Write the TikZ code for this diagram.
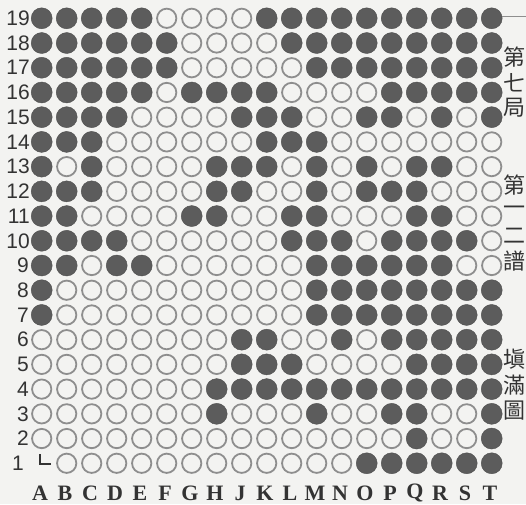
\documentclass[tikz,border=0pt]{standalone}
\usepackage{fontspec}
\newfontfamily\cjk{Noto Sans CJK TC}
\newfontfamily\numfont{Liberation Sans}
\newfontfamily\letfont{Liberation Serif}
\usetikzlibrary{calc}
\definecolor{bg}{HTML}{F3F3F1}
\definecolor{blk}{HTML}{5C5C5C}
\definecolor{rim}{HTML}{8E8E8E}
\definecolor{ink}{HTML}{333333}
\tikzset{
  stone/.style={circle, minimum size=21pt, inner sep=0pt},
  stoneb/.style={stone, fill=blk, draw=blk!85!black, line width=0.4pt},
  stonew/.style={stone, minimum size=19.3pt, draw=rim, line width=1.8pt, fill=bg},
  stonen/.style={stone},
  rowlab/.style={anchor=east, font=\numfont\fontsize{21}{21}\selectfont, text=ink, inner sep=0pt},
  collab/.style={font=\letfont\bfseries\fontsize{22}{22}\selectfont, text=ink, inner sep=0pt},
  cjklab/.style={font=\cjk\fontsize{22}{22}\selectfont, text=ink, inner sep=0pt},
  boardline/.style={draw=ink, line width=1.8pt},
  edgeline/.style={draw=rim, line width=0.8pt},
}
\newcommand\stonerow[3]{%
  \foreach \c [count=\i from 0] in {#3} {
    \node[stone\c] (s\i-#1) at ({41.7+25*\i}, {18.3+(19-#1)*24.72}) {};
  }
  \node[rowlab] (r#1) at (#2, {18.3+(19-#1)*24.72}) {#1};
}
\begin{document}
\begin{tikzpicture}[x=1pt,y=-1pt]
  \fill[bg] (0,0) rectangle (526,504);
  \useasboundingbox (0,0) rectangle (526,504);
  \stonerow{19}{30}{b,b,b,b,b,w,w,w,w,b,b,b,b,b,b,b,b,b,b}
  \stonerow{18}{30}{b,b,b,b,b,b,w,w,w,w,b,b,b,b,b,b,b,b,b}
  \stonerow{17}{30}{b,b,b,b,b,b,w,w,w,w,w,b,b,b,b,b,b,b,b}
  \stonerow{16}{30}{b,b,b,b,b,w,b,b,b,b,w,w,w,w,b,b,b,b,b}
  \stonerow{15}{30}{b,b,b,b,w,w,w,w,b,b,b,w,w,b,b,w,b,w,b}
  \stonerow{14}{30}{b,b,b,w,w,w,w,w,w,b,b,b,w,w,w,w,w,w,w}
  \stonerow{13}{30}{b,w,b,w,w,w,w,b,b,b,w,b,w,b,w,b,b,w,w}
  \stonerow{12}{30}{b,b,b,w,w,w,w,b,b,w,w,b,w,b,b,b,w,w,w}
  \stonerow{11}{30}{b,b,w,w,w,w,b,b,w,w,b,b,w,w,w,b,b,w,w}
  \stonerow{10}{30}{b,b,b,b,w,w,w,w,w,w,b,b,b,w,b,b,b,b,w}
  \stonerow{9}{29}{b,b,w,b,b,w,w,w,w,w,w,b,b,b,b,b,b,w,w}
  \stonerow{8}{29}{b,w,w,w,w,w,w,w,w,w,w,b,b,b,b,b,b,b,b}
  \stonerow{7}{29}{b,w,w,w,w,w,w,w,w,w,w,b,b,b,b,b,b,b,b}
  \stonerow{6}{29}{w,w,w,w,w,w,w,w,b,b,w,w,b,w,b,b,b,b,b}
  \stonerow{5}{29}{w,w,w,w,w,w,w,w,b,b,b,w,w,w,w,b,b,b,b}
  \stonerow{4}{29}{w,w,w,w,w,w,w,b,b,b,b,b,b,b,b,b,b,b,b}
  \stonerow{3}{29}{w,w,w,w,w,w,w,b,w,w,w,b,w,w,b,b,w,w,b}
  \stonerow{2}{29}{w,w,w,w,w,w,w,w,w,w,w,w,w,w,w,b,w,w,b}
  \stonerow{1}{24}{n,w,w,w,w,w,w,w,w,w,w,w,w,b,b,b,b,b,b}
  % corner mark at A1
  \draw[boardline] ($(s0-1)+(-2,-9)$) -- ($(s0-1)+(-2,0.5)$) -- ($(s0-1)+(9,0.5)$);
  % board edge at top right
  \coordinate (edgeR) at (526,16.5);
  \draw[edgeline] (s18-19.east |- edgeR) -- (edgeR);
  % column letters
  \foreach \l [count=\i from 0] in {A,B,C,D,E,F,G,H,J,K,L,M,N,O,P,Q,R,S,T} {
    \node[collab] (c\l) at ({40+25*\i}, 493) {\l};
  }
  % side titles
  \node[cjklab] (t1) at (514,57) {第};
  \node[cjklab] (t2) at (514,83) {七};
  \node[cjklab] (t3) at (514,108) {局};
  \node[cjklab] (t4) at (514,185) {第};
  \node[cjklab] (t5) at (514,211) {一};
  \node[cjklab] (t6) at (514,236) {二};
  \node[cjklab] (t7) at (514,261) {譜};
  \node[cjklab] (t8) at (514,359) {塡};
  \node[cjklab] (t9) at (514,385) {滿};
  \node[cjklab] (t10) at (514,411) {圖};
\end{tikzpicture}
\end{document}
